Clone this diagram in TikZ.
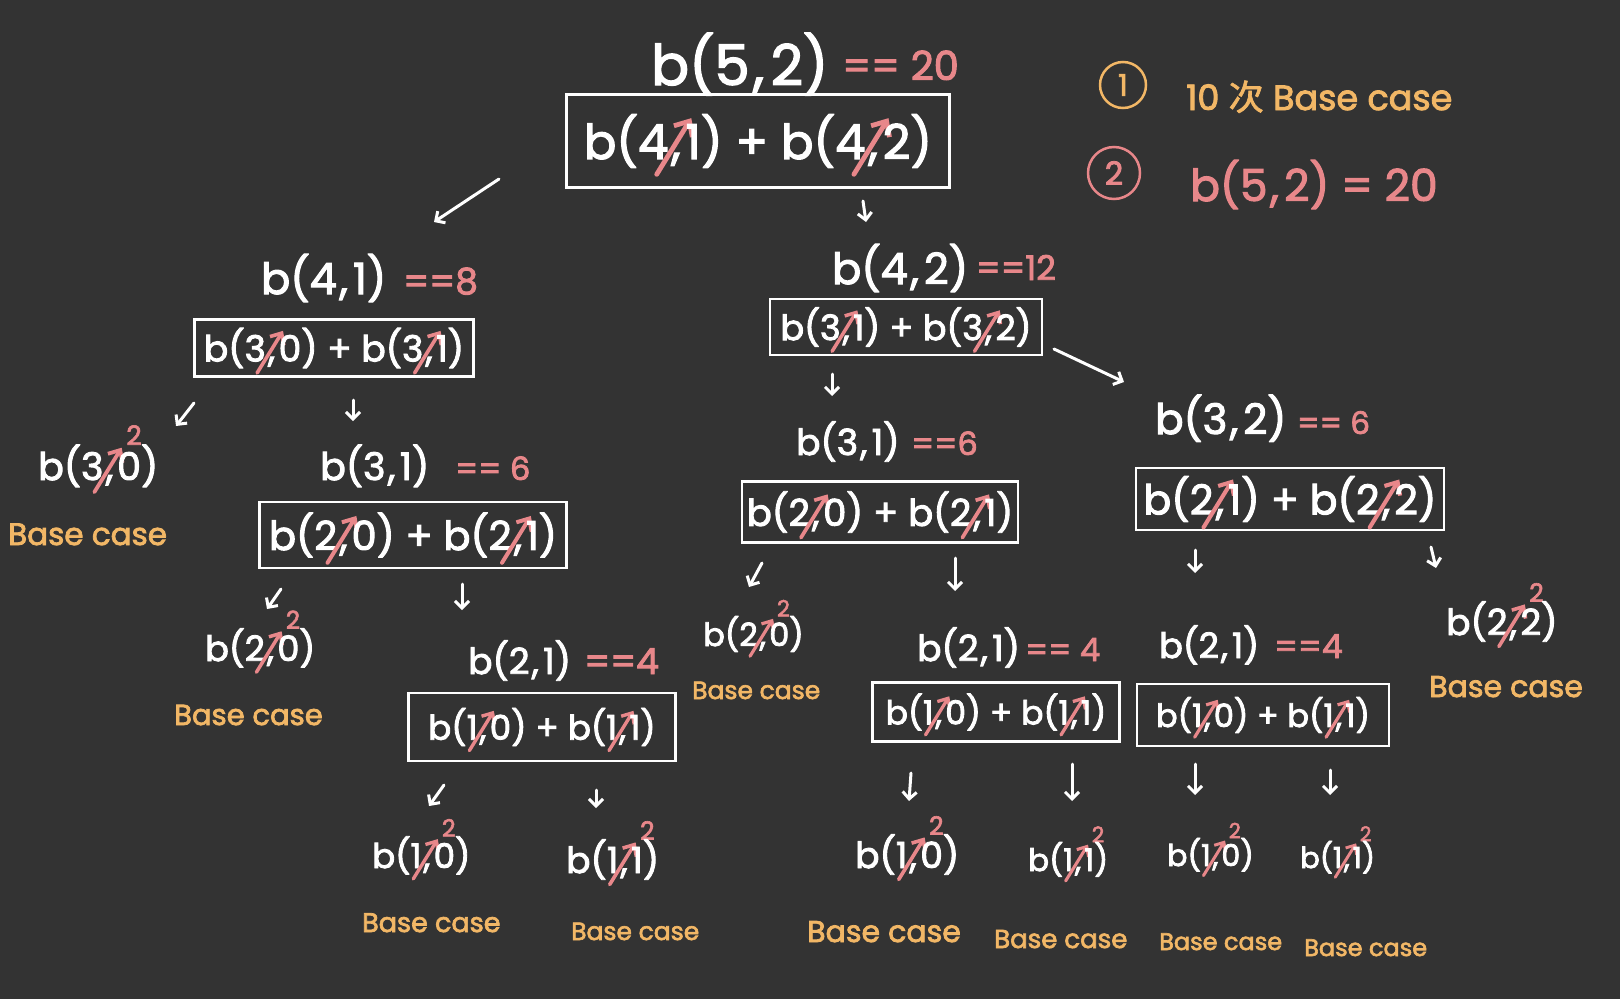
\documentclass[tikz,border=0pt]{standalone}
\usepackage{fontspec}
\setmainfont{Poppins}[FakeBold=2.5]
\newfontfamily\cjk{Noto Sans CJK SC}[FakeBold=2]
\usetikzlibrary{arrows.meta}
\definecolor{bg}{HTML}{333333}
\definecolor{pk}{HTML}{E8878A}
\definecolor{og}{HTML}{F2B766}
\newcommand\fs[1]{\fontsize{#1}{#1}\selectfont}
\tikzset{
  strike/.style={draw=pk, line width=0.1em, line cap=round, -{Straight Barb[length=0pt 2.5,width=0pt 4.5]}},
}
\newcommand\xc{\kern0.06em,\tikz[overlay]\draw[strike](-0.5em,-0.32em)--(0.22em,0.85em);\kern0.1em}
\newcommand\xt{\kern0.06em,\tikz[overlay]{\draw[strike](-0.5em,-0.32em)--(0.22em,0.85em);\node[text=pk,inner sep=0pt,anchor=south west,scale=0.7] at (0.34em,0.92em){2};}\kern0.1em}
\newcommand\cm{\kern0.06em,\kern0.12em}
\begin{document}
\begin{tikzpicture}[x=1pt,y=-1pt,
  lbl/.style={anchor=base west, inner sep=0pt, text=white},
  eq/.style={anchor=base west, inner sep=0pt, text=pk},
  basec/.style={anchor=base west, inner sep=0pt, text=og},
  sum/.style={draw=white, line width=2.5pt, text=white, inner sep=0pt},
  arr/.style={draw=white, line width=3pt, line cap=round, -{Straight Barb[length=7pt,width=14pt]}}]
\fill[bg] (0,0) rectangle (1620,999);
\useasboundingbox (0,0) rectangle (1620,999);

% top
\node[lbl,font=\fs{56}] (t0) at (651,85) {b(5\cm2)};
\node[eq,font=\fs{40}] (t0e) at (842,80) {== 20};
\node[sum,minimum width=383pt,minimum height=93pt,font=\fs{48}] (s0) at (758,141) {b(4\xc1) + b(4\xc2)};

% legend
\node[draw=og,circle,line width=2.5pt,minimum size=46pt,inner sep=0pt,text=og,font=\fs{30}] (c1) at (1123,85) {1};
\node[basec,font=\fs{35}] (l1) at (1186,110) {10 {\cjk 次} Base case};
\node[draw=pk,circle,line width=2.5pt,minimum size=52pt,inner sep=0pt,text=pk,font=\fs{32}] (c2) at (1114,173) {2};
\node[eq,font=\fs{44}] (l2) at (1190,201) {b(5\cm2) = 20};

% level 1 left
\node[lbl,font=\fs{43}] (a) at (261,294) {b(4\cm1)};
\node[eq,font=\fs{36}] (ae) at (403,294) {==8};
\node[sum,minimum width=279pt,minimum height=57pt,font=\fs{36}] (as) at (334,348) {b(3\xc0) + b(3\xc1)};

% level 1 right
\node[lbl,font=\fs{43}] (b) at (832,284) {b(4\cm2)};
\node[eq,font=\fs{34}] (be) at (976,280) {==12};
\node[sum,minimum width=272pt,minimum height=56pt,font=\fs{35}] (bs) at (906,327) {b(3\xc1) + b(3\xc2)};

% left subtree
\node[lbl,font=\fs{38}] (a1) at (38,480) {b(3\xt0)};
\node[basec,font=\fs{31}] (a1b) at (8,545) {Base case};
\node[lbl,font=\fs{38}] (a2) at (320,480) {b(3\cm1)};
\node[eq,font=\fs{32}] (a2e) at (455,480) {== 6};
\node[sum,minimum width=307pt,minimum height=66pt,font=\fs{40}] (a2s) at (413,535) {b(2\xc0) + b(2\xc1)};
\node[lbl,font=\fs{35}] (a3) at (205,661) {b(2\xt0)};
\node[basec,font=\fs{29}] (a3b) at (174,725) {Base case};
\node[lbl,font=\fs{36}] (a4) at (468,674) {b(2\cm1)};
\node[eq,font=\fs{36}] (a4e) at (584,674) {==4};
\node[sum,minimum width=267pt,minimum height=68pt,font=\fs{34}] (a4s) at (542,727) {b(1\xc0) + b(1\xc1)};
\node[lbl,font=\fs{34}] (a5) at (372,868) {b(1\xt0)};
\node[basec,font=\fs{27}] (a5b) at (362,932) {Base case};
\node[lbl,font=\fs{36}] (a6) at (566,873) {b(1\xt1)};
\node[basec,font=\fs{25}] (a6b) at (571,940) {Base case};

% middle subtree
\node[lbl,font=\fs{36}] (m1) at (796,455) {b(3\cm1)};
\node[eq,font=\fs{32}] (m1e) at (911,455) {==6};
\node[sum,minimum width=276pt,minimum height=61pt,font=\fs{37}] (m1s) at (880,512) {b(2\xc0) + b(2\xc1)};
\node[lbl,font=\fs{32}] (m2) at (703,646) {b(2\xt0)};
\node[basec,font=\fs{25}] (m2b) at (692,699) {Base case};
\node[lbl,font=\fs{36}] (m3) at (917,661) {b(2\cm1)};
\node[eq,font=\fs{32}] (m3e) at (1025,661) {== 4};
\node[sum,minimum width=247pt,minimum height=59pt,font=\fs{33}] (m3s) at (996,712) {b(1\xc0) + b(1\xc1)};
\node[lbl,font=\fs{36}] (m4) at (855,868) {b(1\xt0)};
\node[basec,font=\fs{30}] (m4b) at (807,942) {Base case};
\node[lbl,font=\fs{31}] (m5) at (1028,871) {b(1\xt1)};
\node[basec,font=\fs{26}] (m5b) at (994,948) {Base case};

% right subtree
\node[lbl,font=\fs{42}] (r1) at (1155,434) {b(3\cm2)};
\node[eq,font=\fs{31}] (r1e) at (1297,434) {== 6};
\node[sum,minimum width=308pt,minimum height=62pt,font=\fs{41}] (r1s) at (1290,499) {b(2\xc1) + b(2\xc2)};
\node[lbl,font=\fs{35}] (r2) at (1159,658) {b(2\cm1)};
\node[eq,font=\fs{33}] (r2e) at (1274,658) {==4};
\node[sum,minimum width=252pt,minimum height=62pt,font=\fs{32}] (r2s) at (1263,715) {b(1\xc0) + b(1\xc1)};
\node[lbl,font=\fs{30}] (r3) at (1167,866) {b(1\xt0)};
\node[basec,font=\fs{24}] (r3b) at (1159,950) {Base case};
\node[lbl,font=\fs{29}] (r4) at (1300,868) {b(1\xt1)};
\node[basec,font=\fs{24}] (r4b) at (1304,956) {Base case};
\node[lbl,font=\fs{36}] (r5) at (1446,635) {b(2\xt2)};
\node[basec,font=\fs{30}] (r5b) at (1429,697) {Base case};

% arrows
\coordinate (p1) at (499,179); \coordinate (q1) at (434,222);
\coordinate (p2) at (863,201); \coordinate (q2) at (866,222);
\coordinate (p3) at (1054,349); \coordinate (q3) at (1124,382);
\coordinate (p4) at (832,374); \coordinate (q4) at (832,396);
\coordinate (p5) at (194,403); \coordinate (q5) at (176,426);
\coordinate (p6) at (353,400); \coordinate (q6) at (353,421);
\coordinate (p7) at (281,589); \coordinate (q7) at (267,609);
\coordinate (p8) at (462,584); \coordinate (q8) at (462,610);
\coordinate (p9) at (444,785); \coordinate (q9) at (429,806);
\coordinate (p10) at (596,790); \coordinate (q10) at (596,808);
\coordinate (p11) at (762,563); \coordinate (q11) at (749,587);
\coordinate (p12) at (955,558); \coordinate (q12) at (955,591);
\coordinate (p13) at (911,773); \coordinate (q13) at (909,801);
\coordinate (p14) at (1072,764); \coordinate (q14) at (1072,801);
\coordinate (p15) at (1195,550); \coordinate (q15) at (1195,573);
\coordinate (p16) at (1431,547); \coordinate (q16) at (1436,568);
\coordinate (p17) at (1195,764); \coordinate (q17) at (1195,795);
\coordinate (p18) at (1330,770); \coordinate (q18) at (1330,795);
\foreach \i in {1,...,18} {\draw[arr] (p\i) -- (q\i);}
\end{tikzpicture}
\end{document}
